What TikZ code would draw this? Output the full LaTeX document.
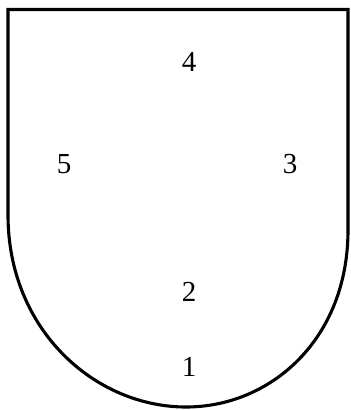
\documentclass[tikz,border=0pt]{standalone}
\usepackage{fontspec}
\setmainfont{Liberation Serif}
\begin{document}
\begin{tikzpicture}[x=1pt,y=-1pt,
  num/.style={font=\fontsize{29}{29}\selectfont, inner sep=0pt}]
\useasboundingbox (0,0) rectangle (351,410);
\coordinate (tl) at (8,9.5);
\coordinate (tr) at (348,9.5);
\coordinate (rs) at (348,230);
\coordinate (bt) at (186,407);
\coordinate (ls) at (8,215);
\draw[line width=3.1pt, line join=miter] (ls) -- (tl) -- (tr) -- (rs)
  .. controls (348,340) and (270,407) .. (bt)
  .. controls (95,407) and (8,330) .. (ls) -- cycle;
\node[num] (n4) at (189,62) {4};
\node[num] (n5) at (64,164) {5};
\node[num] (n3) at (290,164) {3};
\node[num] (n2) at (189,292) {2};
\node[num] (n1) at (189,367) {1};
\end{tikzpicture}
\end{document}
